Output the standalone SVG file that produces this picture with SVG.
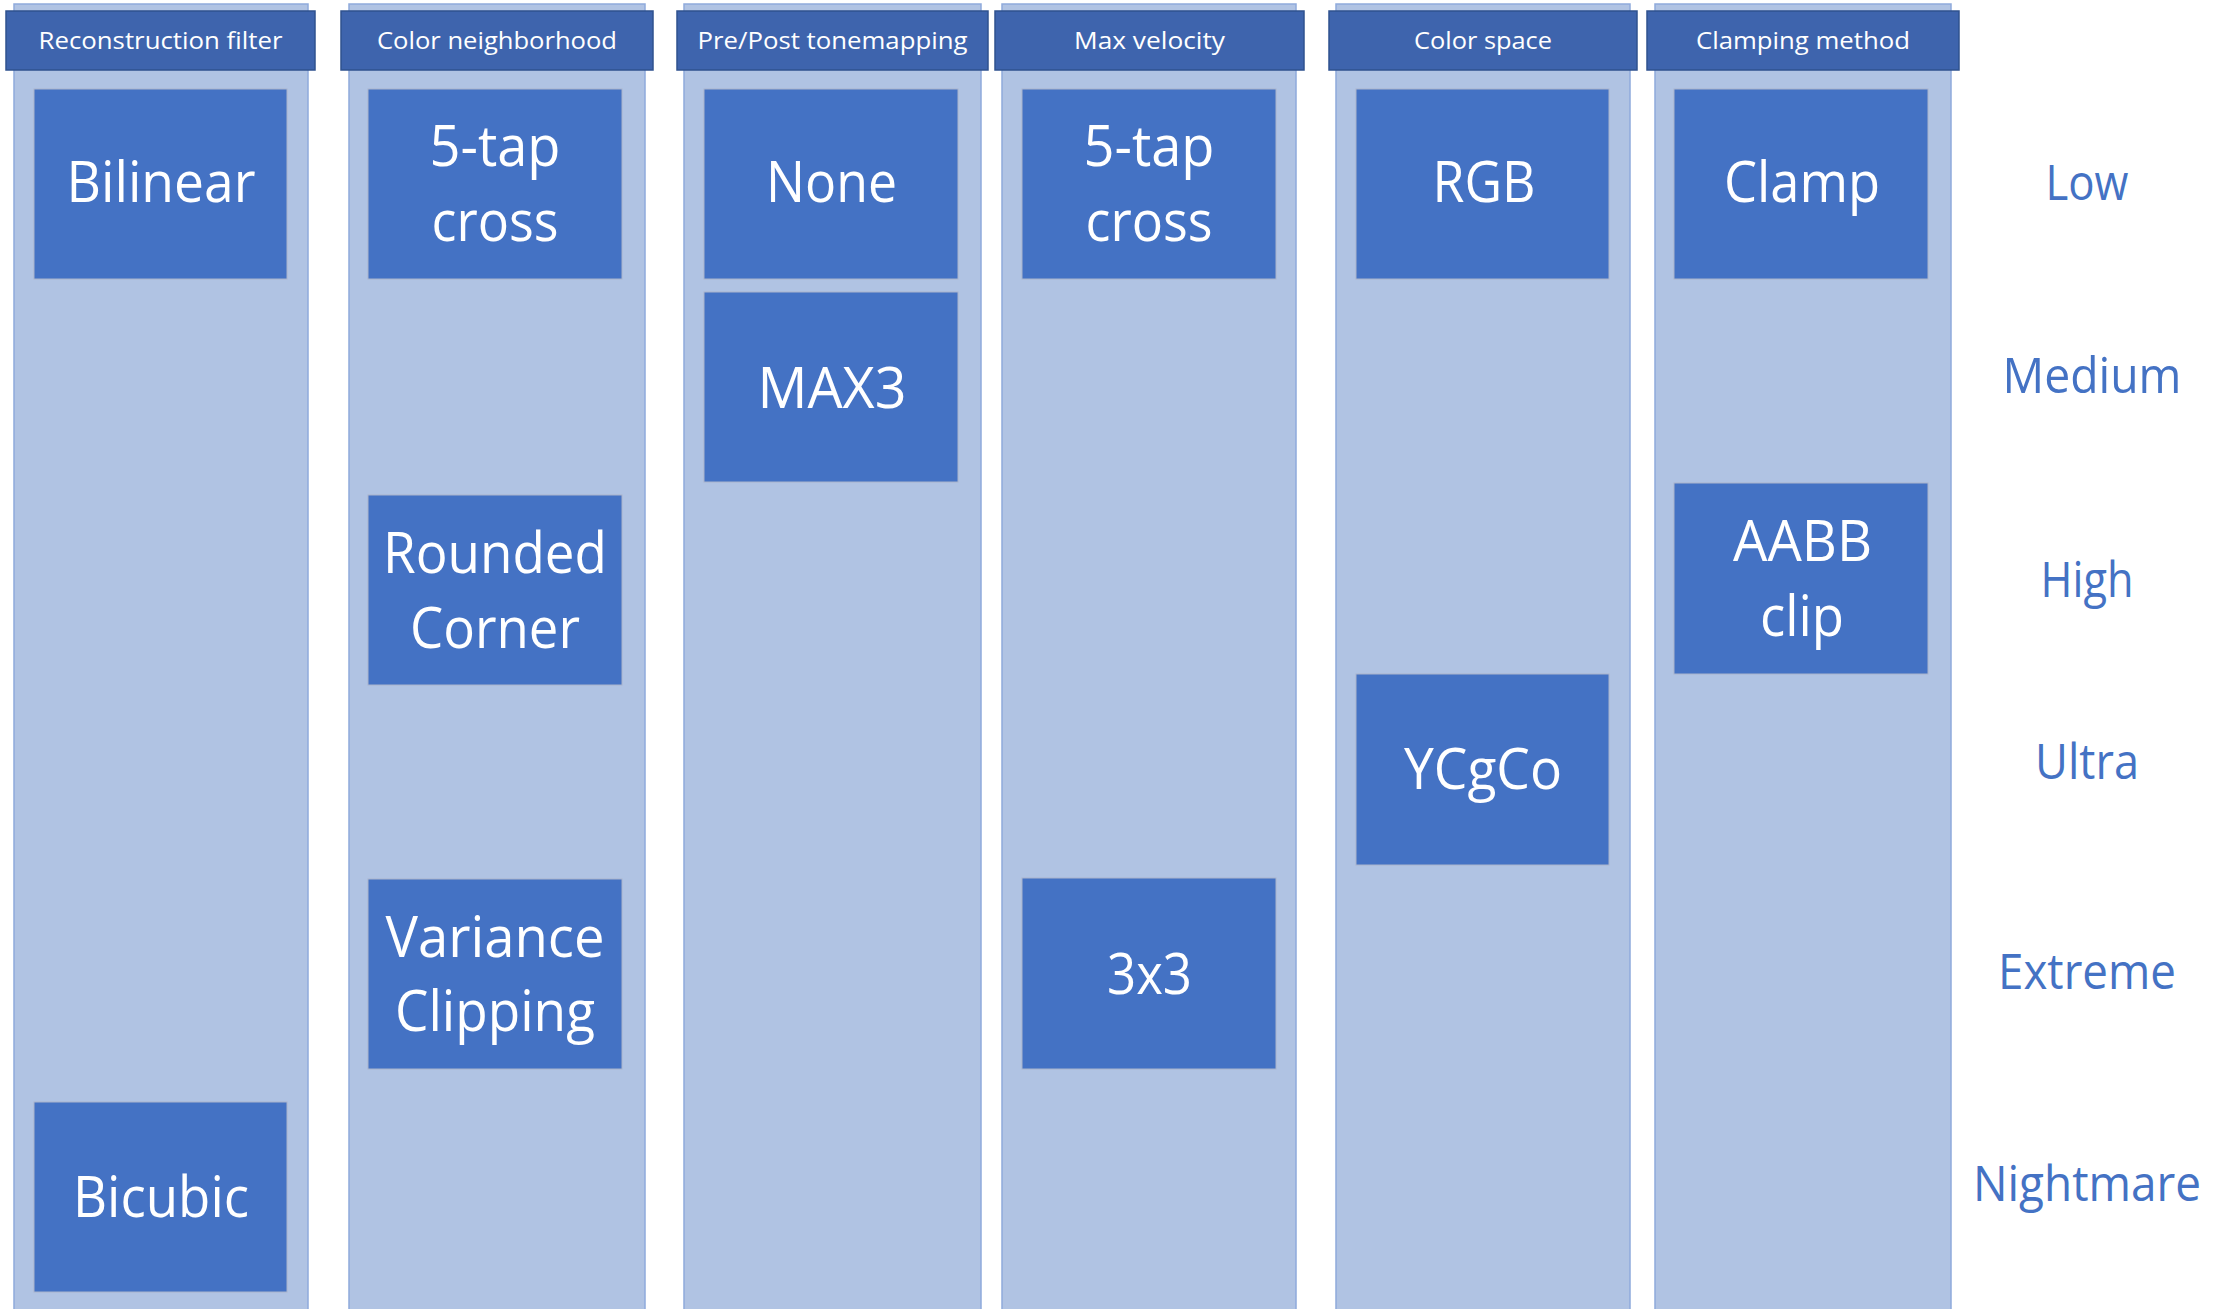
<svg xmlns="http://www.w3.org/2000/svg" width="2236" height="1309" viewBox="0 0 2236 1309">
<style>
.col{fill:#B0C3E3;stroke:#8FAADC;stroke-width:1.5}
.hdr{fill:#3E64AD;stroke:#2F528F;stroke-width:1.5}
.box{fill:#4472C4;stroke:#A9B4CC;stroke-width:1}
.ht{font-family:"Open Sans","Liberation Sans",sans-serif;font-size:24px;fill:#FFFFFF;text-anchor:middle}
.bt{font-family:"Open Sans","Liberation Sans",sans-serif;font-size:56px;fill:#FFFFFF;text-anchor:middle}
.lt{font-family:"Open Sans","Liberation Sans",sans-serif;font-size:50px;fill:#4472C4;text-anchor:middle}
</style>
<rect width="2236" height="1309" fill="#FFFFFF"/>
<g id="col-reconstruction">
<rect class="col" x="14" y="4" width="294" height="1320"/>
<rect class="hdr" x="6" y="11" width="309" height="59"/>
<text class="ht" x="160.5" y="49" textLength="244" lengthAdjust="spacingAndGlyphs">Reconstruction filter</text>
</g>
<g id="col-neighborhood">
<rect class="col" x="349" y="4" width="296" height="1320"/>
<rect class="hdr" x="341" y="11" width="312" height="59"/>
<text class="ht" x="497" y="49" textLength="240" lengthAdjust="spacingAndGlyphs">Color neighborhood</text>
</g>
<g id="col-tonemapping">
<rect class="col" x="684" y="4" width="297" height="1320"/>
<rect class="hdr" x="677" y="11" width="311" height="59"/>
<text class="ht" x="832.5" y="49" textLength="270" lengthAdjust="spacingAndGlyphs">Pre/Post tonemapping</text>
</g>
<g id="col-velocity">
<rect class="col" x="1002" y="4" width="294" height="1320"/>
<rect class="hdr" x="995" y="11" width="309" height="59"/>
<text class="ht" x="1149.5" y="49" textLength="151" lengthAdjust="spacingAndGlyphs">Max velocity</text>
</g>
<g id="col-colorspace">
<rect class="col" x="1336" y="4" width="294" height="1320"/>
<rect class="hdr" x="1329" y="11" width="308" height="59"/>
<text class="ht" x="1483" y="49" textLength="138" lengthAdjust="spacingAndGlyphs">Color space</text>
</g>
<g id="col-clamping">
<rect class="col" x="1655" y="4" width="296" height="1320"/>
<rect class="hdr" x="1647" y="11" width="312" height="59"/>
<text class="ht" x="1803" y="49" textLength="214" lengthAdjust="spacingAndGlyphs">Clamping method</text>
</g>

<g id="node-bilinear">
<rect class="box" x="34" y="89" width="253" height="190"/>
<text class="bt" x="161" y="202" textLength="189" lengthAdjust="spacingAndGlyphs">Bilinear</text>
</g>
<g id="node-bicubic">
<rect class="box" x="34" y="1102" width="253" height="190"/>
<text class="bt" x="161" y="1217" textLength="176" lengthAdjust="spacingAndGlyphs">Bicubic</text>
</g>
<g id="node-5tap-neigh">
<rect class="box" x="368" y="89" width="254" height="190"/>
<text class="bt" x="495" y="166" textLength="131" lengthAdjust="spacingAndGlyphs">5-tap</text>
<text class="bt" x="495" y="241" textLength="127" lengthAdjust="spacingAndGlyphs">cross</text>
</g>
<g id="node-rounded">
<rect class="box" x="368" y="495" width="254" height="190"/>
<text class="bt" x="495" y="573" textLength="224" lengthAdjust="spacingAndGlyphs">Rounded</text>
<text class="bt" x="495" y="648" textLength="170" lengthAdjust="spacingAndGlyphs">Corner</text>
</g>
<g id="node-variance">
<rect class="box" x="368" y="879" width="254" height="190"/>
<text class="bt" x="495" y="957" textLength="219" lengthAdjust="spacingAndGlyphs">Variance</text>
<text class="bt" x="495" y="1031" textLength="200" lengthAdjust="spacingAndGlyphs">Clipping</text>
</g>
<g id="node-none">
<rect class="box" x="704" y="89" width="254" height="190"/>
<text class="bt" x="831.5" y="202" textLength="131" lengthAdjust="spacingAndGlyphs">None</text>
</g>
<g id="node-max3">
<rect class="box" x="704" y="292" width="254" height="190"/>
<text class="bt" x="832" y="408" textLength="149" lengthAdjust="spacingAndGlyphs">MAX3</text>
</g>
<g id="node-5tap-vel">
<rect class="box" x="1022" y="89" width="254" height="190"/>
<text class="bt" x="1149" y="166" textLength="131" lengthAdjust="spacingAndGlyphs">5-tap</text>
<text class="bt" x="1149" y="241" textLength="127" lengthAdjust="spacingAndGlyphs">cross</text>
</g>
<g id="node-3x3">
<rect class="box" x="1022" y="878" width="254" height="191"/>
<text class="bt" x="1149.5" y="994" textLength="85" lengthAdjust="spacingAndGlyphs">3x3</text>
</g>
<g id="node-rgb">
<rect class="box" x="1356" y="89" width="253" height="190"/>
<text class="bt" x="1484" y="202" textLength="103" lengthAdjust="spacingAndGlyphs">RGB</text>
</g>
<g id="node-ycgco">
<rect class="box" x="1356" y="674" width="253" height="191"/>
<text class="bt" x="1483" y="789" textLength="158" lengthAdjust="spacingAndGlyphs">YCgCo</text>
</g>
<g id="node-clamp">
<rect class="box" x="1674" y="89" width="254" height="190"/>
<text class="bt" x="1802" y="202" textLength="156" lengthAdjust="spacingAndGlyphs">Clamp</text>
</g>
<g id="node-aabb">
<rect class="box" x="1674" y="483" width="254" height="191"/>
<text class="bt" x="1802.5" y="561" textLength="139" lengthAdjust="spacingAndGlyphs">AABB</text>
<text class="bt" x="1802" y="636" textLength="84" lengthAdjust="spacingAndGlyphs">clip</text>
</g>

<g id="levels">
<text class="lt" x="2087" y="200" textLength="83" lengthAdjust="spacingAndGlyphs">Low</text>
<text class="lt" x="2092" y="393" textLength="179" lengthAdjust="spacingAndGlyphs">Medium</text>
<text class="lt" x="2087" y="597" textLength="93" lengthAdjust="spacingAndGlyphs">High</text>
<text class="lt" x="2087" y="779" textLength="104" lengthAdjust="spacingAndGlyphs">Ultra</text>
<text class="lt" x="2087" y="989" textLength="178" lengthAdjust="spacingAndGlyphs">Extreme</text>
<text class="lt" x="2087" y="1201" textLength="228" lengthAdjust="spacingAndGlyphs">Nightmare</text>
</g>
<g id="connectors"/>
</svg>
